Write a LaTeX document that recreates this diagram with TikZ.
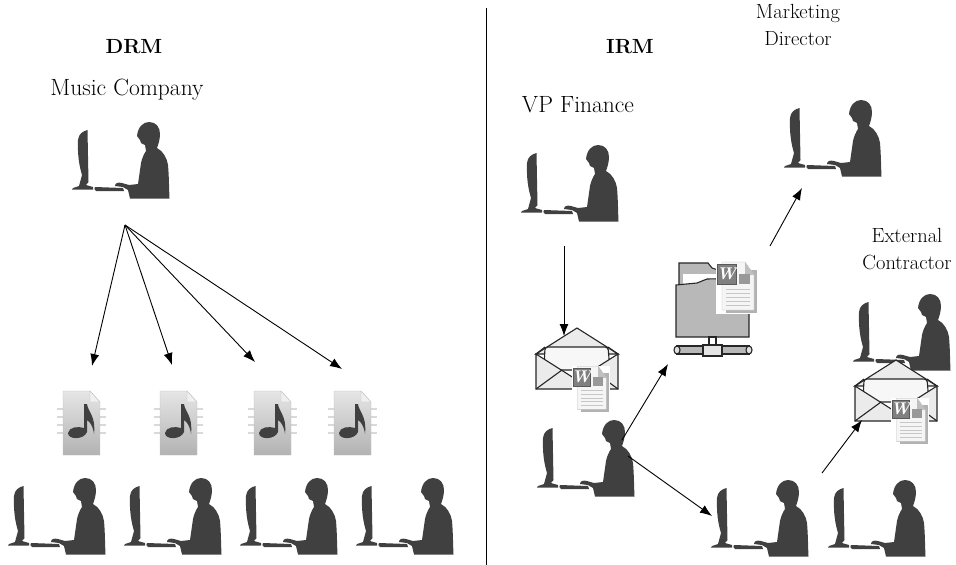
\documentclass[tikz,border=0pt]{standalone}
\usetikzlibrary{arrows.meta}
\definecolor{silhouette}{gray}{0.25}
\definecolor{foldergray}{gray}{0.72}
\tikzset{
  labeltext/.style={align=center, font=\fontsize{20.5}{27}\selectfont},
  widetext/.style={align=center, font=\fontsize{23.5}{27}\selectfont},
  linkarrow/.style={-{Latex[length=12pt,width=9pt]}, line width=0.9pt, black},
  outline/.style={draw=black!85, line width=1.1pt},
  person/.pic={
    \fill[silhouette] (18,30) .. controls (18.5,24) and (23,21) .. (27.5,20) -- (28.5,72) -- (26,75) -- (33,77) -- (33,79.5) -- (12,79.5) -- (13,78) -- (19,76) -- (22,65) .. controls (19,55) and (17.5,45) .. (18,30) -- cycle;
    \fill[silhouette] (35,77) -- (63,78) -- (64,81) -- (36,81) .. controls (34,80) and (34,78) .. (35,77) -- cycle;
    \fill[silhouette] (77,26) .. controls (78,17) and (83,12) .. (89,12) .. controls (96,12) and (100,17) .. (100,24) .. controls (100,30) and (98,35) .. (97,38) .. controls (103,41) and (107,48) .. (108,55) .. controls (109,66) and (109,78) .. (109.5,88.5) -- (70,88.5) -- (68,80) -- (63,77) -- (55,76) .. controls (55,73) and (58,72) .. (62,73) -- (69,75) -- (78,74) -- (81,53) .. controls (82,48) and (84,44) .. (86,41) -- (85,35) -- (81,33) -- (80,30) -- cycle;
  },
  musicdoc/.pic={
    \draw[black!15, line width=1.2pt] (17,29) -- (66,29) (17,37) -- (66,37) (17,45) -- (66,45) (17,53) -- (66,53);
    \shade[top color=black!10, bottom color=black!30, draw=black!25] (23,11) -- (50,11) -- (60,22) -- (60,75) -- (23,75) -- cycle;
    \fill[black!6, draw=black!25] (50,11) -- (50,22) -- (60,22) -- cycle;
    \fill[silhouette] (28,53) .. controls (29,47) and (38,46) .. (44,48) -- (44,24) -- (47,24) .. controls (48,32) and (56,36) .. (54,54) .. controls (53,46) and (50,42) .. (47,40) -- (47,52) .. controls (44,60) and (28,60) .. (28,53) -- cycle;
  },
  worddoc/.pic={
    \fill[white] (-1,-2) rectangle (41,50);
    \fill[black!30] (9,6) -- (40,6) -- (40,49) -- (9,49) -- cycle;
    \fill[black!4, draw=black!25] (5,-2) -- (28,-2) -- (37,11) -- (37,46) -- (5,46) -- cycle;
    \fill[black!25] (28,-2) -- (28,11) -- (37,11) -- cycle;
    \foreach \ypos in {25,29,33,37,41}
      \draw[black!22] (9,\ypos) -- (33,\ypos);
    \fill[black!40] (22,10) rectangle (33,20);
    \fill[black!50, draw=black!65] (0,0) rectangle (19,20);
    \path (9.5,10) node[inner sep=0pt, text=white, font=\bfseries\itshape\fontsize{17}{17}\selectfont] {W};
  },
  envelope/.pic={
    \fill[black!8, outline] (16,14) -- (57,-12) -- (98,14) -- cycle;
    \fill[black!3, outline, rounded corners=3pt] (25,7) -- (88,7) -- (90,30) -- (24,30) -- cycle;
    \fill[black!8, outline] (16,14) -- (57,40) -- (98,14) -- (98,49) -- (16,49) -- cycle;
    \draw[outline] (16,49) -- (42,30) (98,49) -- (72,30) (16,14) -- (25,7) (98,14) -- (88,7);
    \path (53,28) pic[scale=0.9] {worddoc};
  },
  folderbox/.pic={
    \fill[foldergray, outline] (39,13) -- (68,13) -- (72,18) -- (78,20) -- (78,40) -- (39,40) -- cycle;
    \fill[white] (43,24) rectangle (78,40);
    \fill[foldergray, outline] (36,35) -- (57,33) -- (67,29) -- (109,28) -- (109,87) -- (36,87) -- cycle;
    \fill[white, outline] (69,87) rectangle (76,96);
    \fill[foldergray, outline] (37,96) rectangle (109,104);
    \fill[black!12, outline] (37,100) ellipse (3 and 4);
    \fill[black!12, outline] (109,100) ellipse (3 and 4);
    \fill[black!10, outline] (63,95) rectangle (82,106);
    \path (77,14) pic {worddoc};
  },
}
\begin{document}
\begin{tikzpicture}[x=1pt, y=-1pt]
\useasboundingbox (0,0) rectangle (956,565);
% divider
\coordinate (dividertop) at (486,8);
\coordinate (dividerbot) at (486,565);
\draw[line width=0.9pt] (dividertop) -- (dividerbot);
% left side
\draw (134,47) node(drm) [labeltext] {\textbf{DRM}};
\draw (127,90) node(company) [widetext] {Music Company};
\path (60,110) pic {person};
\path (40,380) pic {musicdoc};
\path (137,380) pic {musicdoc};
\path (231,380) pic {musicdoc};
\path (311,380) pic {musicdoc};
\path (-4,466) pic {person};
\path (112,466) pic {person};
\path (228,466) pic {person};
\path (344,466) pic {person};
\coordinate (fanout) at (125,225);
\coordinate (docone) at (92,366);
\coordinate (doctwo) at (172,365);
\coordinate (docthree) at (255,362);
\coordinate (docfour) at (342,369);
\draw[linkarrow] (fanout) -- (docone);
\draw[linkarrow] (fanout) -- (doctwo);
\draw[linkarrow] (fanout) -- (docthree);
\draw[linkarrow] (fanout) -- (docfour);
% right side
\draw (630,47) node(irm) [labeltext] {\textbf{IRM}};
\draw (578,105) node(finance) [widetext] {VP Finance};
\draw (798,25) node(marketing) [labeltext] {Marketing\\Director};
\draw (907,249) node(contractor) [labeltext] {External\\Contractor};
\path (509,133) pic {person};
\path (772,88) pic {person};
\path (841,282) pic {person};
\path (520,340) pic {envelope};
\path (839,372) pic {envelope};
\path (640,250) pic {folderbox};
\path (525,408) pic {person};
\path (699,468) pic {person};
\path (816,468) pic {person};
\coordinate (financeout) at (564,246);
\coordinate (mailin) at (564,336);
\coordinate (senderup) at (622,440);
\coordinate (folderin) at (668,364);
\coordinate (senderdown) at (628,456);
\coordinate (receiverin) at (712,516);
\coordinate (folderout) at (770,246);
\coordinate (marketingin) at (802,188);
\coordinate (receiverout) at (822,473);
\coordinate (secondmail) at (862,420);
\draw[linkarrow] (financeout) -- (mailin);
\draw[linkarrow] (senderup) -- (folderin);
\draw[linkarrow] (senderdown) -- (receiverin);
\draw[linkarrow] (folderout) -- (marketingin);
\draw[linkarrow] (receiverout) -- (secondmail);
\end{tikzpicture}
\end{document}
